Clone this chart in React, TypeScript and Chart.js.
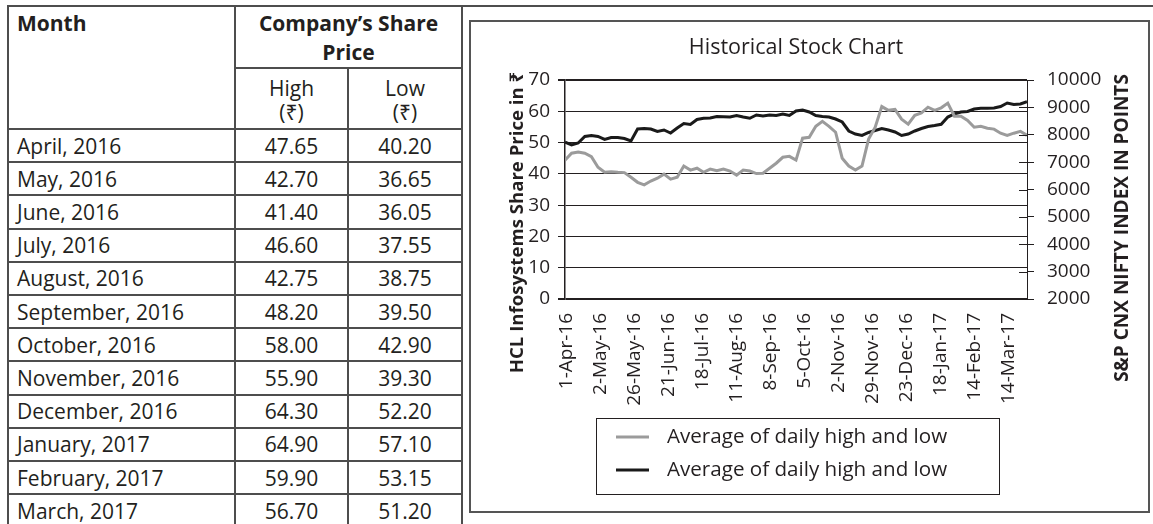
import React, { useEffect, useRef } from "react";
import { Chart, registerables } from "chart.js";

Chart.register(...registerables);

// ---------------- data ----------------
const months = [
  "April, 2016", "May, 2016", "June, 2016", "July, 2016", "August, 2016", "September, 2016",
  "October, 2016", "November, 2016", "December, 2016", "January, 2017", "February, 2017", "March, 2017",
];
const highPrices = [47.65, 42.7, 41.4, 46.6, 42.75, 48.2, 58.0, 55.9, 64.3, 64.9, 59.9, 56.7];
const lowPrices = [40.2, 36.65, 36.05, 37.55, 38.75, 39.5, 42.9, 39.3, 52.2, 57.1, 53.15, 51.2];

const xTickLabels = [
  "1-Apr-16", "2-May-16", "26-May-16", "21-Jun-16", "18-Jul-16", "11-Aug-16", "8-Sep-16",
  "5-Oct-16", "2-Nov-16", "29-Nov-16", "23-Dec-16", "18-Jan-17", "14-Feb-17", "14-Mar-17",
];

// HCL Infosystems share price (₹)
const hclSharePrice = [
  44.4, 46.6, 47.0, 46.6, 45.5, 42.1, 40.5, 40.7, 40.5, 40.4, 38.9, 37.3, 36.5, 37.7, 38.6, 39.9,
  38.3, 38.9, 42.5, 41.2, 41.8, 40.5, 41.5, 41.0, 41.5, 40.9, 39.6, 41.2, 40.9, 40.1, 40.2, 41.8,
  43.4, 45.3, 45.6, 44.4, 51.4, 51.7, 55.2, 56.8, 55.2, 53.3, 45.0, 42.5, 41.2, 42.5, 51.1, 54.9,
  61.5, 60.3, 60.6, 57.5, 55.9, 58.7, 59.5, 61.3, 60.3, 61.1, 62.6, 58.4, 58.4, 57.1, 54.9, 55.2,
  54.6, 54.3, 53.0, 52.3, 53.0, 53.6, 52.3,
];
// S&P CNX Nifty index (points)
const niftyIndex = [
  7735, 7626, 7699, 7936, 7973, 7936, 7827, 7900, 7900, 7863, 7772, 8210, 8228, 8210, 8119, 8174,
  8064, 8247, 8411, 8374, 8557, 8601, 8612, 8667, 8659, 8648, 8703, 8648, 8601, 8722, 8685, 8722,
  8703, 8758, 8703, 8868, 8904, 8831, 8703, 8667, 8648, 8575, 8466, 8137, 8027, 7973, 8082, 8155,
  8228, 8174, 8101, 7973, 8027, 8137, 8228, 8301, 8338, 8382, 8648, 8758, 8831, 8849, 8941, 8966,
  8966, 8977, 9032, 9160, 9105, 9123, 9207,
];

const seriesNames = ["Average of daily high and low", "Average of daily high and low"];
const chartTitle = "Historical Stock Chart";
const leftAxisTitle = "HCL Infosystems Share Price in ₹";
const rightAxisTitle = "S&P CNX NIFTY INDEX IN POINTS";

// ---------------- styles ----------------
const FONT = "'Open Sans', 'Noto Sans', 'DejaVu Sans', sans-serif";
const INK = "#231f20";
const RULE = "#4d4d4d";

const COL_X = [8, 235, 348, 462];
const HEADER_TOP = 6;
const HEADER_MID = 68;
const HEADER_BOTTOM = 129;
const ROW_H = 33.2;

function Line({ x, y, w, h }: { x: number; y: number; w: number; h: number }) {
  return <div style={{ position: "absolute", left: x, top: y, width: w, height: h, background: RULE }} />;
}

function PriceTable() {
  const lines: JSX.Element[] = [];
  lines.push(<Line key="top" x={COL_X[0] - 1} y={HEADER_TOP - 1} w={1160} h={2} />);
  lines.push(<Line key="mid" x={COL_X[1]} y={HEADER_MID - 1} w={COL_X[3] - COL_X[1]} h={2} />);
  for (let r = 0; r <= months.length; r++) {
    const y = HEADER_BOTTOM + r * ROW_H;
    lines.push(<Line key={"h" + r} x={COL_X[0] - 1} y={Math.round(y) - 1} w={COL_X[3] - COL_X[0] + 2} h={2} />);
  }
  lines.push(<Line key="v0" x={COL_X[0] - 1} y={HEADER_TOP - 1} w={2} h={600} />);
  lines.push(<Line key="v1" x={COL_X[1] - 1} y={HEADER_TOP - 1} w={2} h={600} />);
  lines.push(<Line key="v2" x={COL_X[2] - 1} y={HEADER_MID - 1} w={2} h={600} />);
  lines.push(<Line key="v3" x={COL_X[3] - 1} y={HEADER_TOP - 1} w={2} h={600} />);

  const cell = (left: number, width: number, top: number, height: number, align: string): React.CSSProperties => ({
    position: "absolute",
    left,
    width,
    top,
    height,
    display: "flex",
    alignItems: "center",
    justifyContent: align,
    fontFamily: FONT,
    fontSize: 21,
    color: INK,
    whiteSpace: "nowrap",
  });

  return (
    <>
      {lines}
      <div style={{ position: "absolute", left: 17, top: 9, fontFamily: FONT, fontSize: 21, fontWeight: 700, lineHeight: "29px", color: INK }}>
        Month
      </div>
      <div style={{ position: "absolute", left: COL_X[1], width: COL_X[3] - COL_X[1], top: 9, textAlign: "center", fontFamily: FONT, fontSize: 21, fontWeight: 700, lineHeight: "29px", color: INK }}>
        Company’s Share
        <br />
        Price
      </div>
      <div style={{ position: "absolute", left: COL_X[1], width: COL_X[2] - COL_X[1], top: 76, textAlign: "center", fontFamily: FONT, fontSize: 21, lineHeight: "24px", color: INK }}>
        High
        <br />
        (₹)
      </div>
      <div style={{ position: "absolute", left: COL_X[2], width: COL_X[3] - COL_X[2], top: 76, textAlign: "center", fontFamily: FONT, fontSize: 21, lineHeight: "24px", color: INK }}>
        Low
        <br />
        (₹)
      </div>
      {months.map((m, r) => {
        const top = HEADER_BOTTOM + r * ROW_H;
        return (
          <React.Fragment key={m}>
            <div style={{ ...cell(COL_X[0], COL_X[1] - COL_X[0], top, ROW_H, "flex-start"), paddingLeft: 9, boxSizing: "border-box" }}>{m}</div>
            <div style={cell(COL_X[1], COL_X[2] - COL_X[1], top, ROW_H, "center")}>{highPrices[r].toFixed(2)}</div>
            <div style={cell(COL_X[2], COL_X[3] - COL_X[2], top, ROW_H, "center")}>{lowPrices[r].toFixed(2)}</div>
          </React.Fragment>
        );
      })}
    </>
  );
}

const decorations = {
  id: "decorations",
  afterDraw(chart: any) {
    const { ctx, chartArea: a, scales } = chart;
    const y2 = scales.y2;
    ctx.save();
    // inner half of the right axis cross ticks
    ctx.strokeStyle = INK;
    ctx.lineWidth = 1;
    y2.ticks.forEach((t: any) => {
      const py = Math.round(y2.getPixelForValue(t.value)) + 0.5;
      ctx.beginPath();
      ctx.moveTo(a.right - 8, py);
      ctx.lineTo(a.right, py);
      ctx.stroke();
    });
    // axis titles
    ctx.fillStyle = INK;
    ctx.textAlign = "center";
    ctx.textBaseline = "middle";
    ctx.font = `bold 18.6px ${FONT}`;
    ctx.save();
    ctx.translate(a.left - 47, a.top + 142.5);
    ctx.rotate(-Math.PI / 2);
    ctx.fillText(leftAxisTitle, 0, 0);
    ctx.restore();
    ctx.font = `bold 19px ${FONT}`;
    ctx.save();
    ctx.translate(a.right + 96, a.top + 148);
    ctx.rotate(-Math.PI / 2);
    ctx.fillText(rightAxisTitle, 0, 0);
    ctx.restore();
    // boxed legend
    const boxW = 403;
    const boxH = 76;
    const bx = Math.round((a.left + a.right) / 2 - boxW / 2) + 1;
    const by = Math.round(a.bottom + 119);
    ctx.strokeStyle = INK;
    ctx.lineWidth = 1;
    ctx.strokeRect(bx + 0.5, by + 0.5, boxW, boxH);
    ctx.font = `20.6px ${FONT}`;
    ctx.textAlign = "left";
    chart.data.datasets.forEach((ds: any, i: number) => {
      const ly = by + 19 + i * 33;
      ctx.strokeStyle = ds.borderColor;
      ctx.lineWidth = 3;
      ctx.beginPath();
      ctx.moveTo(bx + 20, ly);
      ctx.lineTo(bx + 53, ly);
      ctx.stroke();
      ctx.fillStyle = INK;
      ctx.fillText(ds.label, bx + 71, ly);
    });
    ctx.restore();
  },
};

function StockChart() {
  const ref = useRef<HTMLCanvasElement | null>(null);
  useEffect(() => {
    if (!ref.current) return;
    const chart = new Chart(ref.current, {
      type: "line",
      data: {
        datasets: [
          {
            label: seriesNames[0],
            data: hclSharePrice.map((v, i) => ({ x: i, y: v })),
            borderColor: "#9b9b9b",
            backgroundColor: "#9b9b9b",
            borderWidth: 3,
            pointRadius: 0,
            xAxisID: "x",
            yAxisID: "y",
          },
          {
            label: seriesNames[1],
            data: niftyIndex.map((v, i) => ({ x: i, y: v })),
            borderColor: "#1a1a1a",
            backgroundColor: "#1a1a1a",
            borderWidth: 3,
            pointRadius: 0,
            xAxisID: "x",
            yAxisID: "y2",
          },
        ],
      },
      options: {
        responsive: false,
        animation: false,
        events: [],
        layout: { padding: 0 },
        plugins: {
          legend: { display: false },
          tooltip: { enabled: false },
          title: {
            display: true,
            text: chartTitle,
            fullSize: false,
            color: INK,
            font: { family: FONT, size: 21.5, weight: "normal" },
            padding: { top: 13.1, bottom: 19.1 },
          },
        },
        scales: {
          x: { type: "linear", min: 0, max: hclSharePrice.length - 1, display: false },
          xl: {
            type: "linear",
            position: "bottom",
            min: -0.06,
            max: -0.06 + 462 / 34,
            afterBuildTicks: (s: any) => {
              s.ticks = xTickLabels.map((_, i) => ({ value: i }));
            },
            afterFit: (s: any) => {
              s.height = 212;
            },
            ticks: {
              autoSkip: false,
              minRotation: 90,
              maxRotation: 90,
              padding: 14,
              color: INK,
              font: { family: FONT, size: 19 },
              callback: (_v: any, i: number) => xTickLabels[i],
            },
            grid: { display: false, drawTicks: false },
            border: { display: false },
          },
          y: {
            position: "left",
            min: 0,
            max: 70,
            afterFit: (s: any) => {
              s.width = 94;
            },
            ticks: { stepSize: 10, padding: 8, color: INK, font: { family: FONT, size: 19 } },
            grid: {
              color: INK,
              lineWidth: (c: any) => (c.tick && (c.tick.value === 0 || c.tick.value === 70) ? 2 : 1),
              tickLength: 7,
            },
            border: { color: INK, width: 1.5 },
          },
          y2: {
            position: "right",
            min: 2000,
            max: 10000,
            afterFit: (s: any) => {
              s.width = 121;
            },
            ticks: {
              stepSize: 1000,
              padding: 13,
              color: INK,
              font: { family: FONT, size: 19 },
              callback: (v: any) => String(v),
            },
            grid: { drawOnChartArea: false, color: INK, lineWidth: 1, tickLength: 7 },
            border: { color: INK, width: 1 },
          },
        },
      },
      plugins: [decorations],
    } as any);
    return () => chart.destroy();
  }, []);
  return <canvas ref={ref} width={677} height={489} style={{ display: "block", width: 677, height: 489 }} />;
}

export default function App() {
  return (
    <div style={{ position: "fixed", left: 0, top: 0, width: 1153, height: 524, overflow: "hidden", background: "#fff" }}>
      <PriceTable />
      <div
        style={{
          position: "absolute",
          left: 469,
          top: 20,
          width: 681,
          height: 493,
          border: "2px solid #555",
          boxSizing: "border-box",
          background: "#fff",
        }}
      >
        <StockChart />
      </div>
    </div>
  );
}
